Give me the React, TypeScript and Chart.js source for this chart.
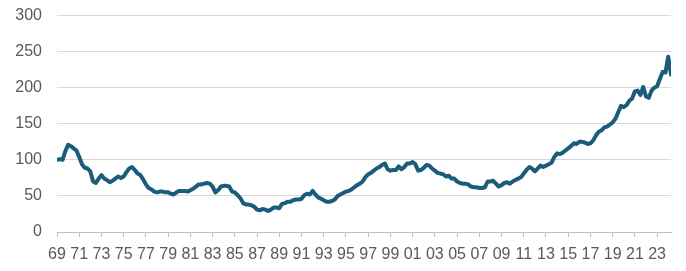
import React, { useEffect, useRef } from "react";
import { Chart, registerables } from "chart.js";

Chart.register(...registerables);

// Quarterly index values, starting 1969 Q1
const startYear = 1969;
const values: number[] = [
  // 1969-1972
  100, 101, 100, 112, 121, 119, 116, 113, 104, 94, 89, 88, 84, 70, 68, 74,
  // 1973-1976
  79, 74, 72, 69, 71, 74, 77, 75, 77, 83, 88, 90, 86, 81, 79, 73,
  // 1977-1980
  66, 61, 59, 56, 55, 56, 56, 55, 55, 53, 52, 55, 57, 57, 57, 56,
  // 1981-1984
  58, 60, 63, 66, 66, 67, 68, 67, 63, 55, 58, 63, 64, 64, 63, 56,
  // 1985-1988
  55, 51, 47, 40, 38, 38, 37, 35, 31, 30, 32, 31, 29, 31, 34, 34,
  // 1989-1992
  33, 39, 40, 42, 42, 44, 45, 45, 46, 51, 53, 52, 57, 52, 48, 46,
  // 1993-1996
  44, 42, 42, 43, 45, 50, 52, 54, 56, 57, 59, 62, 65, 67, 70, 76,
  // 1997-2000
  80, 82, 85, 88, 90, 93, 95, 87, 85, 86, 86, 91, 87, 90, 95, 95,
  // 2001-2004
  97, 94, 85, 86, 89, 93, 92, 88, 85, 82, 81, 80, 77, 78, 74, 74,
  // 2005-2008
  70, 68, 67, 67, 66, 63, 62, 62, 61, 61, 62, 70, 70, 71, 67, 63,
  // 2009-2012
  65, 68, 69, 67, 70, 72, 74, 76, 81, 86, 90, 88, 84, 88, 92, 90,
  // 2013-2016
  92, 94, 96, 104, 109, 108, 110, 113, 116, 119, 123, 122, 125, 125, 124, 122,
  // 2017-2020
  123, 127, 134, 139, 141, 145, 146, 149, 152, 157, 166, 175, 173, 176, 182, 185,
  // 2021-2024
  195, 196, 190, 201, 188, 186, 196, 200, 202, 212, 222, 221, 243, 218,
];

const tickLabels: string[] = [
  "69", "71", "73", "75", "77", "79", "81", "83", "85", "87", "89", "91", "93", "95",
  "97", "99", "01", "03", "05", "07", "09", "11", "13", "15", "17", "19", "21", "23",
];
const yTicks: number[] = [0, 50, 100, 150, 200, 250, 300];

const LINE_COLOR = "#1b5b7b";
const GRID_COLOR = "#d9d9d9";
const TEXT_COLOR = "#595959";
const FONT = "'Liberation Sans', Arial, sans-serif";

export default function App() {
  const ref = useRef<HTMLCanvasElement | null>(null);

  useEffect(() => {
    if (!ref.current) return;
    const points = values.map((v, i) => ({ x: startYear + i * 0.25, y: v }));
    const tickYears = tickLabels.map((_, i) => startYear + i * 2);
    const chart = new Chart(ref.current, {
      type: "line",
      data: {
        datasets: [
          {
            data: points,
            borderColor: LINE_COLOR,
            borderWidth: 4,
            pointRadius: 0,
            tension: 0,
            borderJoinStyle: "round",
            borderCapStyle: "round",
            fill: false,
          },
        ],
      },
      options: {
        animation: false,
        responsive: false,
        maintainAspectRatio: false,
        layout: { padding: { top: 0, right: 15, left: 0, bottom: 0 } },
        plugins: { legend: { display: false }, tooltip: { enabled: false } },
        scales: {
          x: {
            type: "linear",
            min: startYear,
            max: startYear + (values.length - 1) * 0.25,
            afterBuildTicks: (scale: any) => {
              scale.ticks = tickYears.map((v) => ({ value: v }));
            },
            afterFit: (scale: any) => {
              scale.height = 39;
            },
            ticks: {
              autoSkip: false,
              maxRotation: 0,
              padding: 8,
              color: TEXT_COLOR,
              font: { family: FONT, size: 16 },
              callback: (v: any) => {
                const idx = Math.round((Number(v) - startYear) / 2);
                return tickLabels[idx] ?? "";
              },
            },
            grid: {
              drawOnChartArea: false,
              drawTicks: true,
              tickLength: 5,
              color: "#bfbfbf",
            },
            border: { display: true, color: "#bfbfbf" },
          },
          y: {
            min: 0,
            max: 300,
            afterBuildTicks: (scale: any) => {
              scale.ticks = yTicks.map((v) => ({ value: v }));
            },
            afterFit: (scale: any) => {
              scale.width = 57;
            },
            ticks: {
              padding: 6,
              color: TEXT_COLOR,
              font: { family: FONT, size: 16 },
            },
            grid: {
              color: GRID_COLOR,
              drawTicks: true,
              tickLength: 9,
              tickColor: "rgba(0,0,0,0)",
              lineWidth: 1,
            },
            border: { display: false },
          },
        },
      },
    });
    return () => chart.destroy();
  }, []);

  return (
    <div style={{ position: "fixed", left: 0, top: 0, width: 686, height: 271, background: "#fff" }}>
      <canvas ref={ref} width={686} height={271} />
    </div>
  );
}
